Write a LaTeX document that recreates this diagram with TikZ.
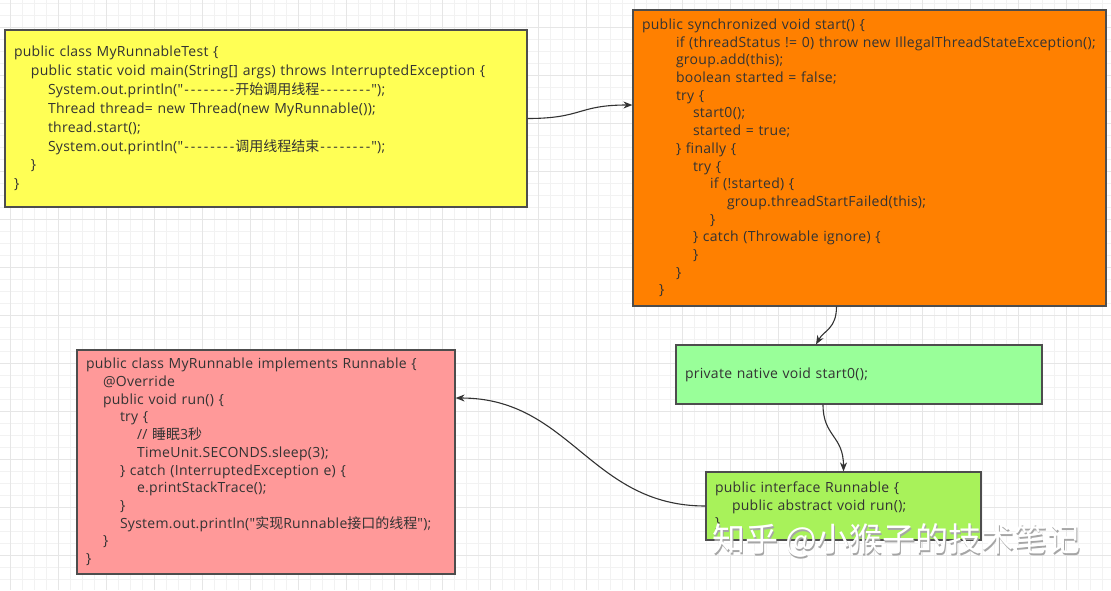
\documentclass[tikz,border=0pt]{standalone}
\usepackage{fontspec}
\newfontfamily\codefont{Open Sans}[LetterSpace=2]
\newfontfamily\cjk{Noto Sans CJK SC}
\usetikzlibrary{shapes,arrows.meta,positioning}

\definecolor{boxline}{HTML}{4D4D4D}
\definecolor{codetext}{HTML}{333333}
\definecolor{yellowbox}{HTML}{FFFF55}
\definecolor{orangebox}{HTML}{FF8000}
\definecolor{greenbox}{HTML}{99FF99}
\definecolor{limebox}{HTML}{A8F25A}
\definecolor{pinkbox}{HTML}{FF9999}
\definecolor{gridminor}{HTML}{F2F2F2}
\definecolor{gridmajor}{HTML}{E6E6E6}

% indent of one code level
\newcommand{\ind}[1]{\hspace*{#1\dimexpr17pt\relax}}
\newcommand{\dash}{\makebox[6.5pt]{-}}
\newcommand{\dashes}{\dash\dash\dash\dash\dash\dash\dash\dash}

\tikzset{
  codebox/.style={draw=boxline, line width=1.2pt, inner xsep=9pt, inner ysep=0pt,
    align=left, text=codetext, font=\codefont\fontsize{14}{17.7}\selectfont},
  link/.style={draw=codetext, line width=1.1pt, -{Stealth[length=9pt,width=7pt]}},
}

\begin{document}
\begin{tikzpicture}[x=1pt,y=-1pt]
\useasboundingbox (0,0) rectangle (1111,590);
\fill[white] (0,0) rectangle (1111,590);
% background grid
\foreach \gx in {-2,10,...,1111} \draw[gridminor,line width=0.6pt] (\gx,0) -- (\gx,590);
\foreach \gy in {3,15,...,590} \draw[gridminor,line width=0.6pt] (0,\gy) -- (1111,\gy);
\foreach \gx in {10,58,...,1111} \draw[gridmajor,line width=0.6pt] (\gx,0) -- (\gx,590);
\foreach \gy in {27,75,...,590} \draw[gridmajor,line width=0.6pt] (0,\gy) -- (1111,\gy);

% boxes
\node[codebox, fill=yellowbox, text width=504pt, minimum height=177pt,
  font=\codefont\fontsize{14}{18.9}\selectfont] (test) at (266,118.5) {%
public class MyRunnableTest \{\\
\ind{1}public static void main(String[] args) throws InterruptedException \{\\
\ind{2}System.out.println("\dashes{\cjk 开始调用线程}\dashes");\\
\ind{2}Thread thread= new Thread(new MyRunnable());\\
\ind{2}thread.start();\\
\ind{2}System.out.println("\dashes{\cjk 调用线程结束}\dashes");\\
\ind{1}\}\\
\}};

\node[codebox, fill=orangebox, text width=455pt, minimum height=296pt] (start) at (869.5,158) {%
public synchronized void start() \{\\
\ind{2}if (threadStatus != 0) throw new IllegalThreadStateException();\\
\ind{2}group.add(this);\\
\ind{2}boolean started = false;\\
\ind{2}try \{\\
\ind{3}start0();\\
\ind{3}started = true;\\
\ind{2}\} finally \{\\
\ind{3}try \{\\
\ind{4}if (!started) \{\\
\ind{5}group.threadStartFailed(this);\\
\ind{4}\}\\
\ind{3}\} catch (Throwable ignore) \{\\
\ind{3}\}\\
\ind{2}\}\\
\ind{1}\}};

\node[codebox, fill=greenbox, text width=348pt, minimum height=59pt] (native) at (859,374.5) {%
private native void start0();};

\node[codebox, fill=limebox, text width=257pt, minimum height=68pt] (iface) at (843.5,506) {%
public interface Runnable \{\\
\ind{1}public abstract void run();\\
\}};

\node[codebox, fill=pinkbox, text width=360pt, minimum height=224pt] (impl) at (266,462) {%
public class MyRunnable implements Runnable \{\\
\ind{1}@Override\\
\ind{1}public void run() \{\\
\ind{2}try \{\\
\ind{3}// {\cjk 睡眠}3{\cjk 秒}\\
\ind{3}TimeUnit.SECONDS.sleep(3);\\
\ind{2}\} catch (InterruptedException e) \{\\
\ind{3}e.printStackTrace();\\
\ind{2}\}\\
\ind{2}System.out.println("{\cjk 实现}Runnable{\cjk 接口的线程}");\\
\ind{1}\}\\
\}};

% connectors
\draw[link] (test.east) .. controls +(55,0) and +(-55,0) .. ([yshift=53pt]start.west);
\draw[link] ([xshift=-33pt]start.south) .. controls +(0,22) and +(8,-14) .. ([xshift=-43pt]native.north);
\draw[link] ([xshift=-36pt]native.south) .. controls +(0,32) and +(0,-36) .. (iface.north);
\draw[link] (iface.west) .. controls +(-115,0) and +(115,0) .. ([yshift=64pt]impl.east);

% watermark
\node[anchor=west, text=gray!70, font=\cjk\fontsize{33}{33}\selectfont, inner sep=0pt] (wmshade) at (713,542) {知乎 @小猴子的技术笔记};
\node[anchor=west, text=white, font=\cjk\fontsize{33}{33}\selectfont, inner sep=0pt] (wm) at (711.8,540.8) {知乎 @小猴子的技术笔记};
\end{tikzpicture}
\end{document}
